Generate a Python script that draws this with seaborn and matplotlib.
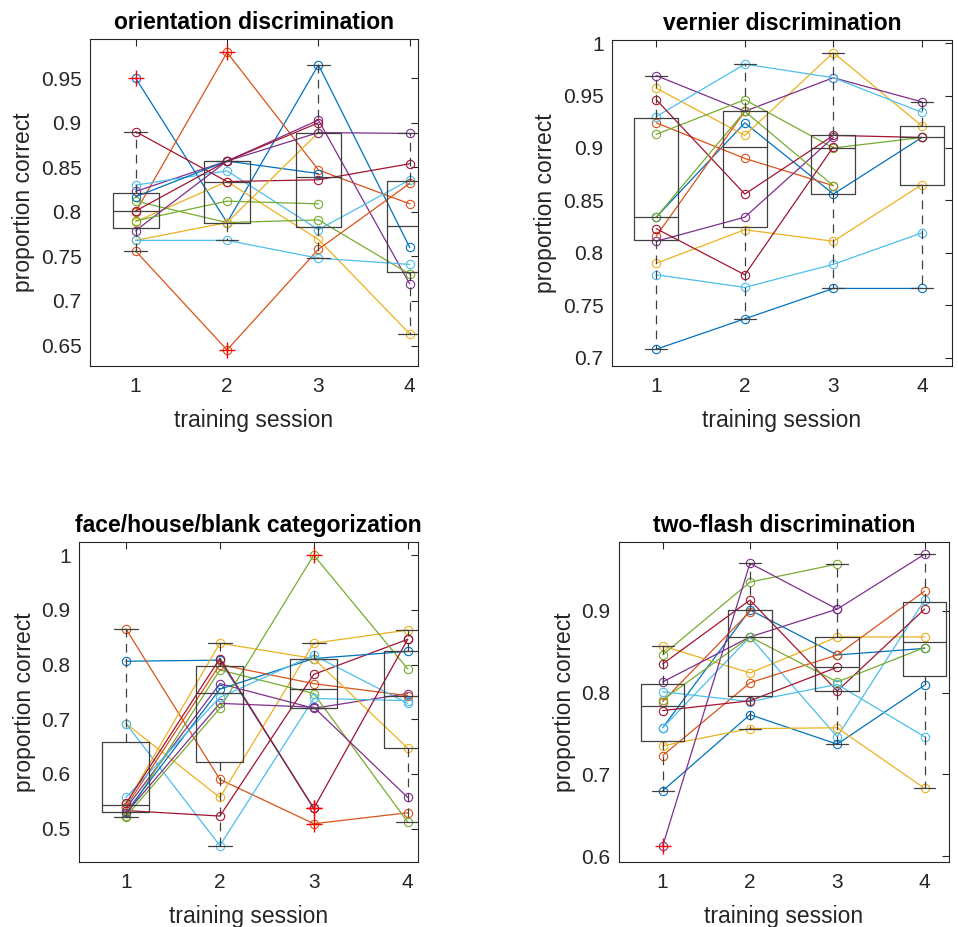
import numpy as np
import pandas as pd
import matplotlib
matplotlib.use("Agg")
import matplotlib.pyplot as plt
import seaborn as sns

nan = np.nan
sessions = [1, 2, 3, 4]
session_labels = ["1", "2", "3", "4"]

# MATLAB default colour order, cycled over the 14 subjects
line_colors = ["#0072BD", "#D95319", "#EDB120", "#7E2F8E",
               "#77AC30", "#4DBEEE", "#A2142F"]
subjects = [f"S{i + 1:02d}" for i in range(14)]

# proportion correct per subject (rows) and training session (columns)
orientation = [
    [0.950, 0.788, 0.965, 0.760],
    [0.800, 0.979, 0.847, 0.809],
    [0.789, 0.834, 0.769, 0.663],
    [0.823, 0.857, 0.903, 0.719],
    [0.812, 0.788, 0.791, 0.730],
    [0.830, 0.846, 0.780, 0.836],
    [0.890, 0.834, 0.836, 0.854],
    [0.817, 0.857, 0.843, nan],
    [0.756, 0.645, 0.758, 0.832],
    [0.768, 0.788, 0.889, nan],
    [0.779, 0.857, 0.889, 0.888],
    [0.790, 0.812, 0.809, nan],
    [0.768, 0.768, 0.748, 0.741],
    [0.801, 0.857, 0.900, nan],
]

vernier = [
    [0.834, 0.924, 0.856, 0.910],
    [0.924, 0.890, 0.864, nan],
    [0.957, 0.912, 0.991, 0.921],
    [0.969, 0.935, 0.967, 0.944],
    [0.913, 0.946, 0.900, 0.910],
    [0.930, 0.980, 0.967, 0.934],
    [0.946, 0.856, 0.912, 0.910],
    [0.708, 0.737, 0.766, 0.766],
    [0.816, 0.935, nan, nan],
    [0.790, 0.822, 0.811, 0.865],
    [0.811, 0.834, 0.910, nan],
    [0.834, 0.935, 0.864, nan],
    [0.779, 0.767, 0.789, 0.819],
    [0.823, 0.779, 0.901, nan],
]

categorization = [
    [0.806, 0.808, 0.537, nan],
    [0.865, 0.590, 0.509, 0.529],
    [0.692, 0.557, 0.839, 0.863],
    [0.537, 0.765, 0.720, 0.747],
    [0.523, 0.790, 0.747, 0.512],
    [0.692, 0.469, 0.738, 0.734],
    [0.533, 0.523, 0.782, 0.846],
    [0.530, 0.755, 0.811, 0.824],
    [0.540, 0.800, 0.765, 0.743],
    [0.545, 0.839, 0.811, 0.647],
    [0.528, 0.729, 0.722, 0.557],
    [0.522, 0.720, 1.000, 0.792],
    [0.557, 0.740, 0.817, 0.729],
    [0.546, 0.811, 0.537, 0.846],
]

two_flash = [
    [0.757, 0.901, 0.846, 0.854],
    [0.789, 0.899, nan, nan],
    [0.857, 0.824, 0.868, 0.868],
    [0.813, 0.868, 0.902, 0.969],
    [0.846, 0.935, 0.957, nan],
    [0.757, 0.868, 0.746, 0.913],
    [0.835, 0.913, 0.802, 0.902],
    [0.680, 0.773, 0.737, 0.809],
    [0.723, 0.812, 0.846, 0.924],
    [0.735, 0.756, 0.757, 0.683],
    [0.6126, 0.958, 0.902, nan],
    [0.791, 0.868, 0.813, 0.855],
    [0.801, 0.789, 0.810, 0.746],
    [0.778, 0.790, 0.831, nan],
]

titles = ["orientation discrimination", "vernier discrimination",
          "face/house/blank categorization", "two-flash discrimination"]
yticks = [
    [0.65, 0.70, 0.75, 0.80, 0.85, 0.90, 0.95],
    [0.70, 0.75, 0.80, 0.85, 0.90, 0.95, 1.00],
    [0.5, 0.6, 0.7, 0.8, 0.9, 1.0],
    [0.6, 0.7, 0.8, 0.9],
]

sns.set_style("white")
plt.rcParams["font.family"] = ["Liberation Sans", "DejaVu Sans"]
plt.rcParams["axes.linewidth"] = 0.8

W, H = 958, 927
fig = plt.figure(figsize=(W / 100, H / 100), dpi=100)


def px_rect(left, top, right, bottom):
    return [left / W, 1 - bottom / H, (right - left) / W, (bottom - top) / H]


layout = [
    dict(rect=px_rect(90, 39, 418, 366), xlim=(0.5, 4.09), ylim=(0.627, 0.994), whis=1.75),
    dict(rect=px_rect(612, 40, 952, 366), xlim=(0.5, 4.34), ylim=(0.692, 1.003), whis=2.0),
    dict(rect=px_rect(79, 542, 418, 862), xlim=(0.5, 4.11), ylim=(0.439, 1.024), whis=1.75),
    dict(rect=px_rect(619, 542, 949, 862), xlim=(0.5, 4.28), ylim=(0.593, 0.984), whis=1.75),
]

palette = {s: line_colors[i % len(line_colors)] for i, s in enumerate(subjects)}
ink = "#262626"

for values, title, ticks, lay in zip(
        [orientation, vernier, categorization, two_flash], titles, yticks, layout):
    df = pd.DataFrame(values, index=subjects, columns=sessions)
    long = (df.rename_axis("subject").reset_index()
              .melt(id_vars="subject", var_name="session", value_name="value"))
    long["session"] = long["session"].astype(float)
    long = long.dropna()

    ax = fig.add_axes(lay["rect"])

    # individual subjects across sessions
    sns.lineplot(data=long, x="session", y="value", hue="subject",
                 hue_order=subjects, palette=palette, estimator=None,
                 marker="o", markersize=6, mfc="none", mew=0.8,
                 linewidth=0.9, legend=False, ax=ax)
    for ln in ax.lines:
        ln.set_markeredgecolor(ln.get_color())

    # group distribution per session
    sns.boxplot(data=long, x="session", y="value", native_scale=True,
                width=0.5, fill=False, color="#404040", linewidth=0.9,
                whis=lay["whis"], capwidths=0.25,
                whiskerprops=dict(linestyle=(0, (7, 5))),
                flierprops=dict(marker="+", markeredgecolor="red",
                                markersize=11, markeredgewidth=1.0),
                ax=ax)

    ax.set_xlim(*lay["xlim"])
    ax.set_ylim(*lay["ylim"])
    ax.set_xticks(sessions)
    ax.set_xticklabels(session_labels)
    ax.set_yticks(ticks)
    ax.set_yticklabels([f"{t:g}" for t in ticks])
    ax.tick_params(axis="both", direction="in", length=5, width=0.8,
                   top=True, right=True, labelsize=15, colors=ink)
    ax.tick_params(axis="x", pad=8)
    ax.tick_params(axis="y", pad=6)
    for sp in ax.spines.values():
        sp.set_visible(True)
        sp.set_color(ink)
        sp.set_linewidth(0.8)
    ax.set_xlabel("training session", fontsize=16.5, color=ink, labelpad=9)
    ax.set_ylabel("proportion correct", fontsize=16.5, color=ink, labelpad=4)
    ax.set_title(title, fontsize=16.5, fontweight="bold", color="black", pad=7)

fig.savefig("out.png", dpi=100)
